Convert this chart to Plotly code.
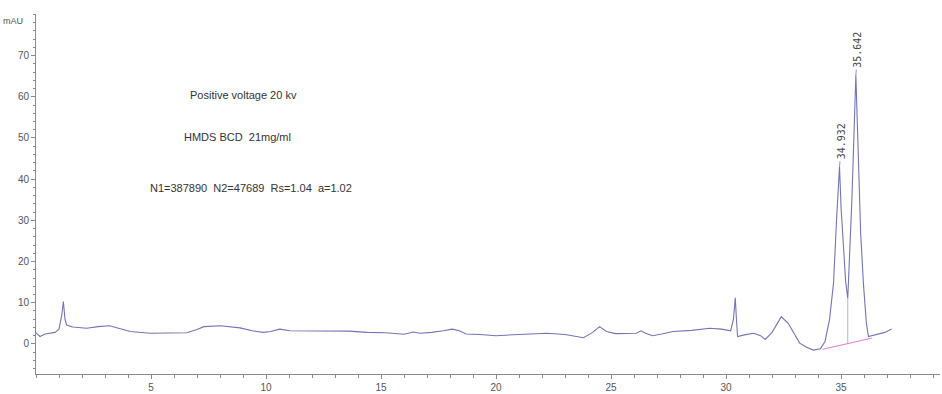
import plotly.graph_objects as go

# Electropherogram trace: migration time (min) vs absorbance (mAU)
time_min = [
    0.0, 0.17, 0.4, 0.83, 1.0, 1.12, 1.19, 1.26, 1.33, 1.6, 2.2, 2.7, 3.2, 3.6,
    4.1, 4.96, 6.0, 6.55, 7.0, 7.3, 8.0, 8.87, 9.4, 9.87, 10.2, 10.6, 11.04,
    12.0, 12.9, 13.6, 14.4, 15.2, 16.0, 16.4, 16.7, 17.2, 17.7, 18.1, 18.4,
    18.7, 19.3, 20.0, 21.0, 22.2, 23.0, 23.8, 24.2, 24.5, 24.8, 25.2, 26.1,
    26.3, 26.5, 26.8, 27.2, 27.7, 28.5, 29.3, 29.8, 30.2, 30.32, 30.4, 30.45,
    30.5, 30.8, 31.2, 31.5, 31.7, 32.0, 32.4, 32.7, 33.0, 33.2, 33.5, 33.8,
    34.1, 34.3, 34.5, 34.67, 34.81, 34.932, 35.0, 35.1, 35.2, 35.29, 35.4,
    35.47, 35.642, 35.75, 35.85, 35.97, 36.1, 36.19, 36.5, 36.9, 37.2,
]
absorbance = [
    2.7, 1.8, 2.4, 2.8, 3.6, 7.0, 10.3, 6.0, 4.6, 4.1, 3.8, 4.2, 4.4, 3.8,
    3.0, 2.6, 2.6, 2.7, 3.5, 4.2, 4.4, 3.9, 3.2, 2.8, 3.0, 3.6, 3.2,
    3.2, 3.2, 3.1, 2.8, 2.7, 2.35, 2.9, 2.6, 2.8, 3.2, 3.6, 3.2,
    2.4, 2.3, 2.0, 2.3, 2.6, 2.3, 1.5, 2.8, 4.2, 3.0, 2.5, 2.6,
    3.2, 2.6, 2.0, 2.4, 3.0, 3.3, 3.8, 3.6, 3.2, 6.0, 11.2, 6.0,
    1.8, 2.2, 2.6, 2.0, 1.1, 2.8, 6.6, 5.0, 2.0, 0.2, -0.8, -1.5,
    -1.2, 0.6, 6.0, 14.7, 30.9, 43.0, 33.0, 22.8, 15.0, 11.1, 24.0,
    35.0, 65.3, 45.0, 27.0, 14.7, 5.0, 1.8, 2.2, 2.8, 3.6,
]

# Integration baseline under the two enantiomer peaks and the valley drop line
baseline_t = [34.2, 36.33]
baseline_v = [-1.3, 1.4]
drop_t = [35.29, 35.29]
drop_v = [-0.1, 11.1]

# Labelled peaks (retention times and apex heights)
peak_times = [34.932, 35.642]
peak_heights = [43.0, 65.3]
peak_labels = ["34.932", "35.642"]

y_tick_vals = [0, 10, 20, 30, 40, 50, 60, 70]
x_tick_vals = [5, 10, 15, 20, 25, 30, 35]

info_lines = [
    ("Positive voltage 20 kv", 9.04, 60.4),
    ("HMDS BCD\u00a0 21mg/ml", 8.74, 50.2),
    ("N1=387890\u00a0 N2=47689\u00a0 Rs=1.04\u00a0 a=1.02", 9.35, 37.9),
]

trace_color = "#7474b6"
axis_color = "#8a8a8a"
text_font = "Liberation Sans Narrow, Arial Narrow, Liberation Sans, Arial, sans-serif"

fig = go.Figure()
fig.add_trace(go.Scatter(
    x=time_min, y=absorbance, mode="lines",
    line=dict(color=trace_color, width=1.1), hoverinfo="skip",
))
fig.add_trace(go.Scatter(
    x=baseline_t, y=baseline_v, mode="lines",
    line=dict(color="#e47ad0", width=1), hoverinfo="skip",
))
fig.add_trace(go.Scatter(
    x=drop_t, y=drop_v, mode="lines",
    line=dict(color="#a09ac8", width=0.8), hoverinfo="skip",
))

for t, h, lab in zip(peak_times, peak_heights, peak_labels):
    fig.add_annotation(
        x=t, y=h, text=lab, textangle=-90,
        showarrow=True, arrowhead=0, arrowwidth=0.8, arrowcolor=trace_color,
        ax=2, ay=-25,
        font=dict(family="DejaVu Sans Mono, monospace", size=10, color="#444444"),
    )

for txt, tx, ty in info_lines:
    fig.add_annotation(
        x=tx, y=ty, text=txt, showarrow=False,
        font=dict(family=text_font, size=11, color="#333333"),
    )

fig.add_annotation(
    xref="paper", yref="paper", x=-0.012, y=1.0, xanchor="right", yanchor="top",
    text="mAU", showarrow=False,
    font=dict(family=text_font, size=9, color="#555555"),
)

fig.update_layout(
    width=942, height=394,
    margin=dict(l=36, r=2, t=14, b=20),
    plot_bgcolor="white", paper_bgcolor="white",
    showlegend=False,
    xaxis=dict(
        range=[0, 39.3], tickvals=x_tick_vals, ticks="outside", ticklen=4,
        tickcolor=axis_color, showline=True, linecolor=axis_color, linewidth=1,
        showgrid=False, zeroline=False,
        tickfont=dict(family=text_font, size=10, color="#555555"),
        minor=dict(dtick=1, ticks="outside", ticklen=3, tickcolor=axis_color, showgrid=False),
    ),
    yaxis=dict(
        range=[-7.3, 80.1], tickvals=y_tick_vals, ticks="outside", ticklen=4,
        tickcolor=axis_color, showline=True, linecolor=axis_color, linewidth=1,
        showgrid=False, zeroline=False,
        tickfont=dict(family=text_font, size=10, color="#555555"),
        minor=dict(dtick=2, ticks="outside", ticklen=2, tickcolor=axis_color, showgrid=False),
    ),
)

fig.write_html("out.html")
